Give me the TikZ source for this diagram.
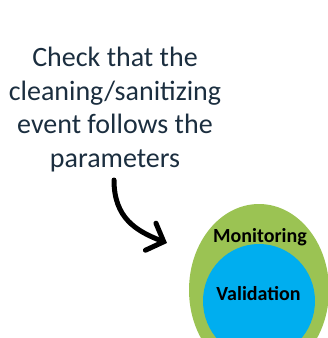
\documentclass[tikz,border=0pt]{standalone}
\usepackage{fontspec}
\setmainfont{Carlito}
\usetikzlibrary{arrows.meta}
\definecolor{txtnavy}{HTML}{1B2E3F}
\definecolor{mongreen}{HTML}{9BC353}
\definecolor{valblue}{HTML}{00AEEF}
\tikzset{
  maintext/.style={font=\fontsize{28}{33.5}\selectfont, text=txtnavy, align=center, inner sep=0pt},
  circlabel/.style={font=\bfseries\fontsize{20}{24}\selectfont, text=black, inner sep=0pt},
  curvearrow/.style={line width=5pt, line cap=round, -{Straight Barb[length=14pt,width=29pt,line cap=round]}}
}
\begin{document}
\begin{tikzpicture}[x=1pt,y=-1pt]
\useasboundingbox (0,0) rectangle (328,338);
\begin{scope}
\clip (0,0) rectangle (328,338);
\fill[mongreen] (259,290) ellipse [x radius=70, y radius=86];
\fill[valblue] (259,301) ellipse [x radius=56, y radius=57];
\end{scope}
\node[maintext, anchor=base] (txt) at (115,167) {Check that the\\cleaning/sanitizing\\event follows the\\parameters};
\node[circlabel, anchor=base] (mon) at (260,242) {Monitoring};
\node[circlabel, anchor=base] (val) at (258.5,300) {Validation};
\coordinate (astart) at (114,180);
\coordinate (aend) at (167,243);
\draw[curvearrow] (astart) .. controls (114,218) and (136,231) .. (aend);
\end{tikzpicture}
\end{document}
